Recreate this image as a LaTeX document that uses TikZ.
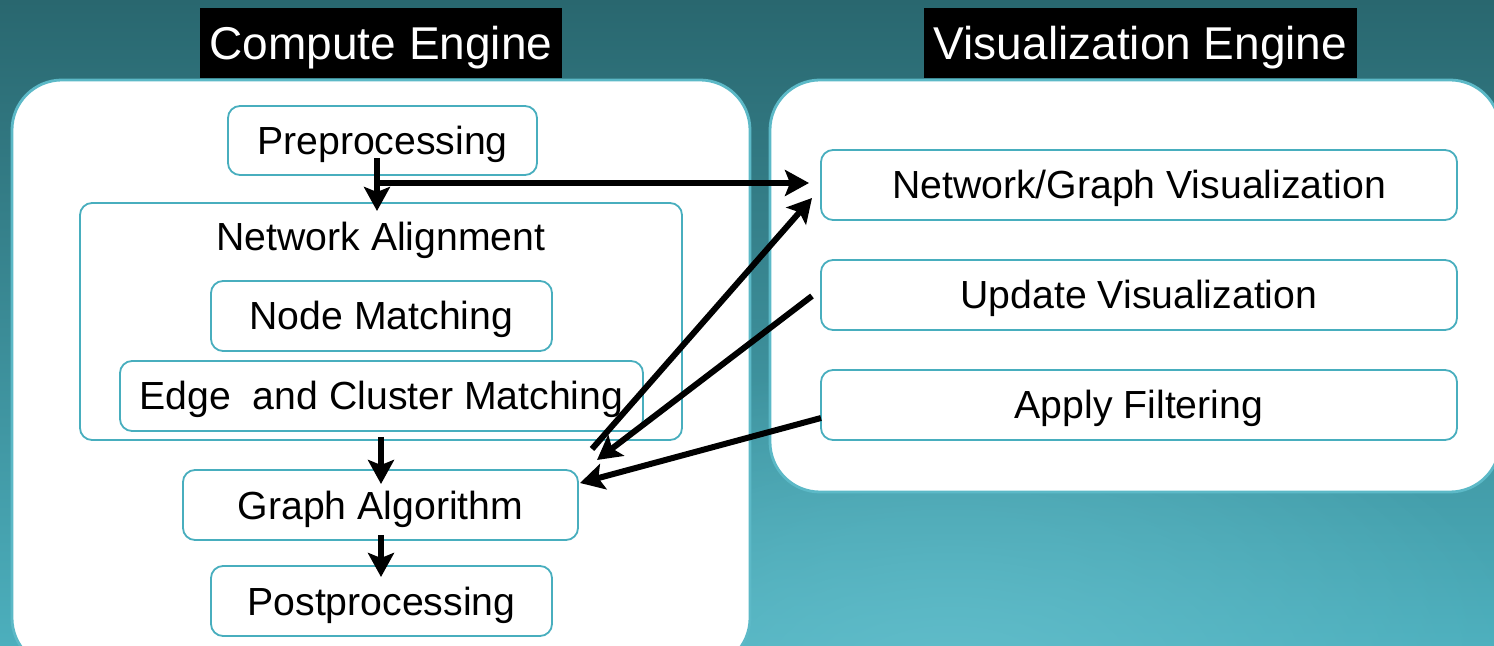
\documentclass[tikz,border=0pt]{standalone}
\usepackage{fontspec}
\setmainfont{Liberation Sans}
\usetikzlibrary{arrows.meta,fadings}
\tikzfading[name=softfade, inner color=transparent!0, outer color=transparent!100]
\definecolor{bgtop}{HTML}{29676F}
\definecolor{bgmid}{HTML}{3A8C98}
\definecolor{bgbot}{HTML}{4CAFBD}
\definecolor{bglight}{HTML}{66C0CD}
\definecolor{teal}{HTML}{48AEBE}
\definecolor{outerteal}{HTML}{5CB9C7}
\tikzset{
  box/.style={draw=teal, line width=0.9pt, fill=white, rounded corners=6pt, inner sep=0pt,
    font=\fontsize{19.6}{23}\selectfont, text height=14pt, text depth=0pt},
  outerbox/.style={draw=outerteal, line width=1.4pt, fill=white, rounded corners=25pt},
  title/.style={fill=black, text=white, inner sep=0pt, font=\fontsize{23}{27}\selectfont,
    text height=16.5pt, text depth=0pt},
  arr/.style={line width=3pt, -{Stealth[length=12pt,width=13pt,inset=2.5pt]}},
  lbl/.style={inner sep=0pt, font=\fontsize{19.6}{23}\selectfont, text height=14pt, text depth=0pt}
}
\begin{document}
\begin{tikzpicture}[x=0.5pt,y=-0.5pt]
\useasboundingbox (0,0) rectangle (1494,646);
\begin{scope}
\clip (0,0) rectangle (1494,646);
\shade[top color=bgtop, middle color=bgmid, bottom color=bgbot] (0,0) rectangle (1494,646);
\fill[bglight, opacity=0.8, path fading=softfade] (950,680) ellipse (600 and 320);
% outer panels
\draw[outerbox] (12,80) rectangle (750,668);
\draw[outerbox] (770,80) rectangle (1500,492);
\end{scope}
% titles
\node[title, minimum width=181pt, minimum height=35pt] (tc) at (381,43) {Compute Engine};
\node[title, minimum width=216.5pt, minimum height=35pt] (tv) at (1140.5,43) {Visualization Engine};
% compute engine boxes
\node[box, minimum width=154.5pt, minimum height=34.5pt] (pre) at (382.5,140.5) {Preprocessing};
\node[box, minimum width=301pt, minimum height=118.5pt] (na) at (381,321.5) {};
\node[lbl] (nal) at (381,237) {Network Alignment};
\node[box, minimum width=170.5pt, minimum height=35pt] (nm) at (381.5,316) {Node Matching};
\node[box, minimum width=261.5pt, minimum height=35pt] (em) at (381.5,396) {Edge~~and Cluster Matching};
\node[box, minimum width=197.5pt, minimum height=35pt] (ga) at (380.5,505) {Graph Algorithm};
\node[box, minimum width=170.5pt, minimum height=35pt] (pp) at (381.5,601) {Postprocessing};
% visualization engine boxes
\node[box, minimum width=318pt, minimum height=35pt] (ng) at (1139,185) {Network/Graph Visualization};
\node[box, minimum width=318pt, minimum height=35pt] (uv) at (1139,295) {Update Visualization};
\node[box, minimum width=318pt, minimum height=35pt] (af) at (1139,405) {Apply Filtering};
% connector end points
\coordinate (a1s) at (377,158);
\coordinate (a1e) at (377,211);
\coordinate (a2s) at (377,183);
\coordinate (a2e) at (809,183);
\coordinate (a3s) at (592,449);
\coordinate (a3e) at (812,198);
\coordinate (a4s) at (812,296);
\coordinate (a4e) at (597,460);
\coordinate (a5s) at (821,418);
\coordinate (a5e) at (580,483);
\coordinate (a6s) at (381,437);
\coordinate (a6e) at (381,484);
\coordinate (a7s) at (381,535);
\coordinate (a7e) at (381,577);
% arrows
\draw[arr] (a1s) -- (a1e);
\draw[arr] (a2s) -- (a2e);
\draw[arr] (a3s) -- (a3e);
\draw[arr] (a4s) -- (a4e);
\draw[arr] (a5s) -- (a5e);
\draw[arr] (a6s) -- (a6e);
\draw[arr] (a7s) -- (a7e);
\end{tikzpicture}
\end{document}
